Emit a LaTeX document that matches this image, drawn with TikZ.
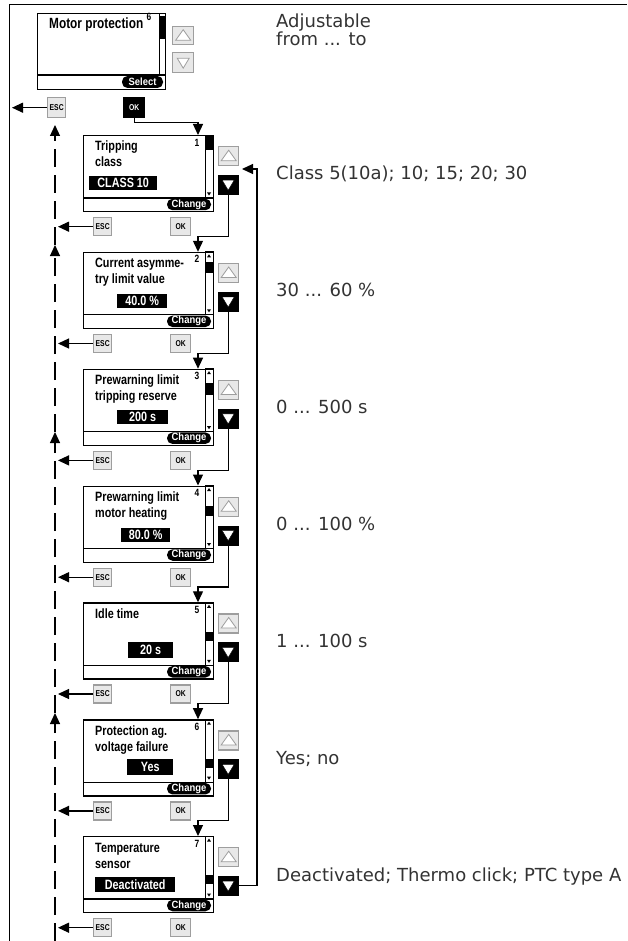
\documentclass[tikz,border=0pt]{standalone}
\usepackage{fontspec}
\setmainfont{DejaVu Sans}
\newfontfamily\lcd[FakeStretch=0.8]{Liberation Sans}
\newfontfamily\lcdw[FakeStretch=0.9]{Liberation Sans}
\usetikzlibrary{arrows.meta,calc}
\tikzset{
 lcdframe/.style={draw, line width=1.3pt, fill=white, inner sep=0pt, anchor=north west, minimum height=76pt},
 btnbase/.style={inner sep=0pt, anchor=north west, minimum width=20pt, minimum height=19pt},
 graybtn/.style={btnbase, draw=black!38, fill=black!9, line width=1.4pt},
 blackbtn/.style={btnbase, fill=black, draw=black},
 keybtn/.style={graybtn, minimum width=18pt, minimum height=18pt, font=\lcd\bfseries\fontsize{8.5}{9}\selectfont},
 pill/.style={fill=black, text=white, rounded corners=5.5pt, inner sep=0pt, minimum height=11.5pt, font=\lcdw\bfseries\fontsize{10.5}{11}\selectfont},
 valbox/.style={fill=black, text=white, inner sep=0pt, anchor=north west, minimum height=14pt, font=\lcd\bfseries\fontsize{13.5}{14}\selectfont},
 ltext/.style={anchor=base west, inner sep=0pt, font=\lcd\bfseries\fontsize{13.5}{15}\selectfont},
 numtext/.style={inner sep=0pt, font=\lcd\bfseries\fontsize{10.5}{10}\selectfont},
 rtext/.style={anchor=base west, inner sep=0pt, text=black!80, align=left, font=\fontsize{18}{16.5}\selectfont},
 link/.style={line width=1.2pt},
 conn/.style={link, -{Triangle[length=11pt,width=10pt]}},
 dconn/.style={conn, dash pattern=on 18pt off 8pt},
}
\newcommand\uptri[1]{\draw[black!38, fill=white, line width=0.8pt] ($(#1.center)+(-7.5,4.5)$) -- ($(#1.center)+(7.5,4.5)$) -- ($(#1.center)+(0,-6)$) -- cycle;}
\newcommand\dntri[2]{\draw[#2] ($(#1.center)+(-6,-4.5)$) -- ($(#1.center)+(6,-4.5)$) -- ($(#1.center)+(0,5.5)$) -- cycle;}
\newcommand\mkscreen[5]{%
 \node[lcdframe, minimum width=130pt] (scr#1) at (#2,#3) {};
 \draw[line width=1.1pt] (#2,#3+63) -- (#2+130,#3+63);
 \draw[line width=0.9pt] (#2+122,#3) rectangle (#2+130,#3+63);
 \fill (#2+124,#3+5.5) -- (#2+128,#3+5.5) -- (#2+126,#3+2.5) -- cycle;
 \fill (#2+124,#3+57.5) -- (#2+128,#3+57.5) -- (#2+126,#3+60.5) -- cycle;
 \fill (#2+122,#3+#4) rectangle (#2+130,#3+#4+#5);
 \node[numtext] (num#1) at (#2+114,#3+7.5) {#1};
 \node[pill, minimum width=44pt] (chg#1) at (#2+106,#3+69.5) {Change};
 \node[graybtn] (up#1) at (#2+135,#3+11) {};
 \uptri{up#1}
 \node[blackbtn] (dn#1) at (#2+135,#3+40) {};
 \dntri{dn#1}{fill=white}
 \node[keybtn] (esc#1) at (#2+10,#3+82) {ESC};
 \node[keybtn, minimum width=20pt] (ok#1) at (#2+87,#3+82) {OK};
 \coordinate (in#1) at (#2+115,#3);
}
\begin{document}
\begin{tikzpicture}[x=1pt,y=-1pt]
\useasboundingbox (0,0) rectangle (627,941);
\fill[white] (0,0) rectangle (627,941);
% frame
\draw[line width=1.5pt] (9.5,941) -- (9.5,4.5) -- (627,4.5);
% main menu screen
\node[lcdframe, minimum width=128pt] (scr0) at (37,13) {};
\draw[line width=1.1pt] (37,75) -- (165,75);
\draw[line width=0.9pt] (159,13) rectangle (165,75);
\fill (159,16) rectangle (165,39);
\node[ltext, font=\lcd\bfseries\fontsize{14.8}{16}\selectfont] (title0) at (49,29) {Motor protection};
\node[numtext, anchor=west] (num0) at ($(title0.east)+(3,-8)$) {6};
\node[pill, minimum width=41pt, minimum height=12pt] (sel0) at (142.5,82) {Select};
\node[graybtn, minimum width=21pt, minimum height=18pt] (up0) at (172,26) {};
\uptri{up0}
\node[graybtn, minimum width=21pt, minimum height=20pt] (dn0) at (172,52) {};
\dntri{dn0}{black!38, fill=white, line width=0.8pt}
\node[keybtn, minimum height=20pt] (esc0) at (47,97) {ESC};
\node[keybtn, fill=black, draw=black, text=white, minimum width=21pt, minimum height=20pt] (ok0) at (123,97) {OK};
% screens
\mkscreen{1}{83}{135}{0}{15}
\mkscreen{2}{83}{251.8}{10}{11}
\mkscreen{3}{83}{368.7}{14}{12}
\mkscreen{4}{83}{485.5}{20}{10}
\mkscreen{5}{83}{602.3}{30}{9}
\mkscreen{6}{83}{719.2}{40}{9}
\mkscreen{7}{83}{836}{39}{9}
% screen texts
\node[ltext] (a1) at (95,151) {Tripping};
\node[ltext] (b1) at (95,167) {class};
\node[valbox, minimum width=68pt] (v1) at (89,176) {CLASS 10};
\node[ltext] (a2) at (95,267.8) {Current asymme-};
\node[ltext] (b2) at (95,283.8) {try limit value};
\node[valbox, minimum width=50pt] (v2) at (117,293.8) {40.0 \%};
\node[ltext] (a3) at (95,384.7) {Prewarning limit};
\node[ltext] (b3) at (95,400.7) {tripping reserve};
\node[valbox, minimum width=51pt] (v3) at (117,409.7) {200 s};
\node[ltext] (a4) at (95,501.5) {Prewarning limit};
\node[ltext] (b4) at (95,517.5) {motor heating};
\node[valbox, minimum width=49pt] (v4) at (121,527.5) {80.0 \%};
\node[ltext] (a5) at (95,618.3) {Idle time};
\node[valbox, minimum width=45pt, minimum height=16pt] (v5) at (128,641.3) {20 s};
\node[ltext] (a6) at (95,735.2) {Protection ag.};
\node[ltext] (b6) at (95,751.2) {voltage failure};
\node[valbox, minimum width=46pt, minimum height=16pt] (v6) at (127,759.2) {Yes};
\node[ltext] (a7) at (95,852) {Temperature};
\node[ltext] (b7) at (95,868) {sensor};
\node[valbox, minimum width=80pt, minimum height=15pt] (v7) at (95,877) {Deactivated};
% right texts
\node[rtext] (t0) at (276,45.5) {Adjustable\\from ... to};
\node[rtext] (t1) at (276,180) {Class 5(10a); 10; 15; 20; 30};
\node[rtext] (t2) at (276,296.8) {30 ... 60 \%};
\node[rtext] (t3) at (276,413.7) {0 ... 500 s};
\node[rtext] (t4) at (276,530.5) {0 ... 100 \%};
\node[rtext] (t5) at (276,647.3) {1 ... 100 s};
\node[rtext] (t6) at (276,764.2) {Yes; no};
\node[rtext] (t7) at (276,881) {Deactivated; Thermo click; PTC type A};
% connectors
\draw[conn] (ok0.south) -- ++(0,4) -| (in1);
\foreach \i/\j in {1/2,2/3,3/4,4/5,5/6,6/7}{
  \draw[conn] (dn\i.south) -- ++(0,42) -| (in\j);
}
\coordinate (lx) at (12,0);
\coordinate (dx) at (58,0);
\draw[conn] (esc0.west) -- (esc0.west -| lx);
\foreach \i in {1,...,7}{
  \draw[conn] (esc\i.west) -- (esc\i.west -| dx);
}
\coordinate (ret) at (242,169);
\coordinate (rx) at (257,0);
\draw[conn] (dn7.east) -| (rx |- ret) -- (ret);
% dashed return line
\coordinate (da) at (55,941);
\coordinate (db) at (55,713);
\coordinate (dc) at (55,432);
\coordinate (dd) at (55,245);
\coordinate (de) at (55,125);
\draw[dconn] (da) -- (db);
\draw[dconn] (db) -- (dc);
\draw[dconn] (dc) -- (dd);
\draw[dconn] (dd) -- (de);
\end{tikzpicture}
\end{document}
